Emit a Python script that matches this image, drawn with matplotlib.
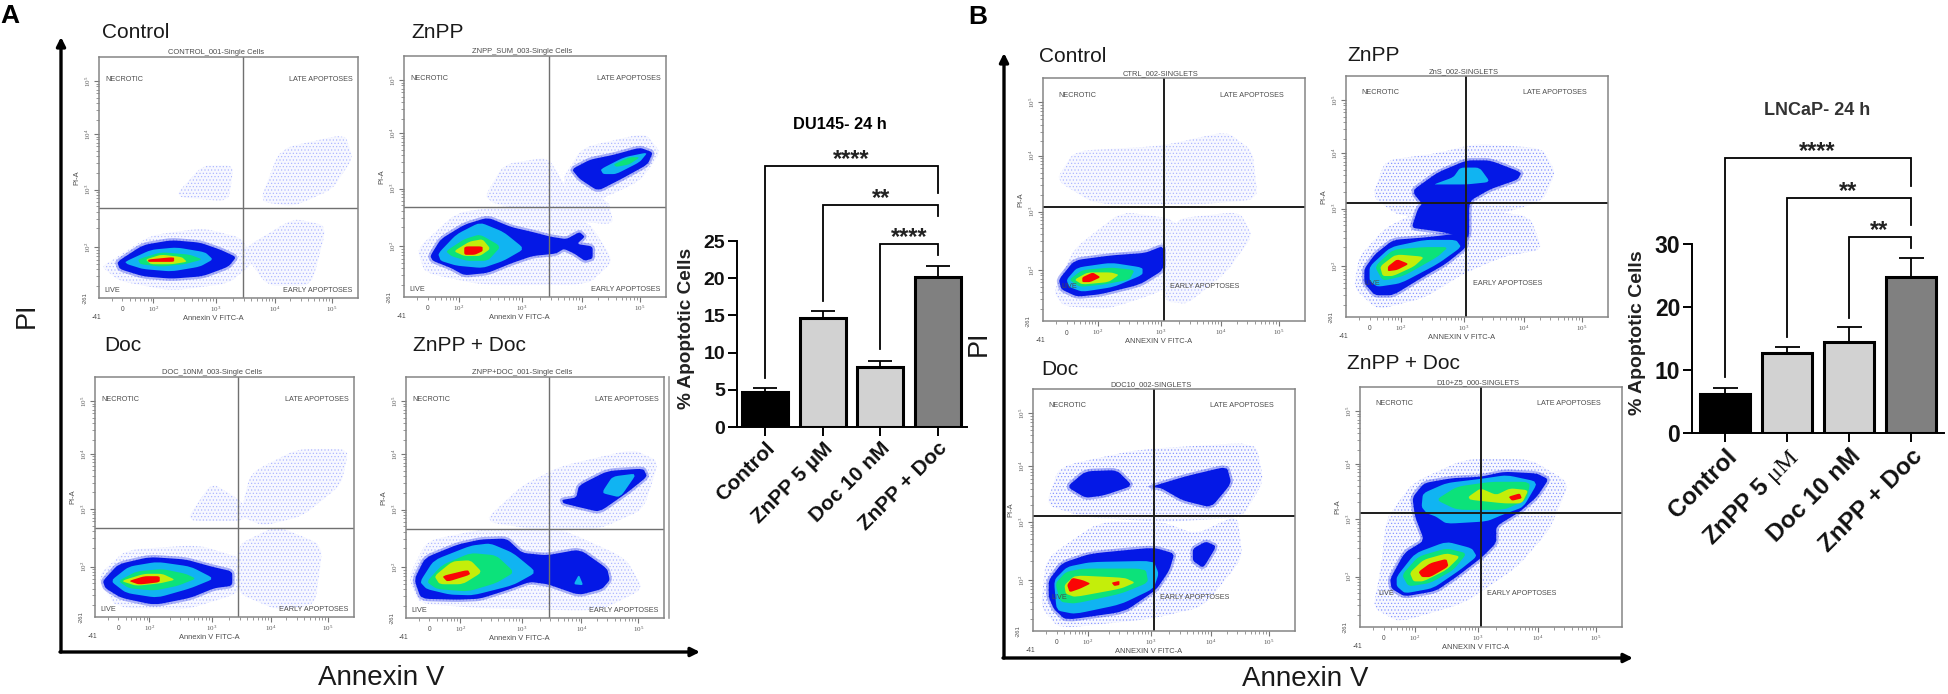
import numpy as np
import matplotlib
matplotlib.use("Agg")
import matplotlib.pyplot as plt

W, H = 1949, 694
plt.rcParams['font.family'] = ['Liberation Sans', 'DejaVu Sans']
plt.rcParams['mathtext.fontset'] = 'custom'
plt.rcParams['mathtext.rm'] = 'Liberation Serif'
plt.rcParams['mathtext.it'] = 'Liberation Serif'
plt.rcParams['hatch.linewidth'] = 0.45

# --- bar chart values ---
bar_groups = ["Control", "ZnPP 5 µM", "Doc 10 nM", "ZnPP + Doc"]
bar_groups_b = ["Control", r"ZnPP 5 $\mu\mathrm{M}$", "Doc 10 nM", "ZnPP + Doc"]
bar_colors = ["#000000", "#d2d2d2", "#d2d2d2", "#808080"]
du145_values = [4.7, 14.6, 8.1, 20.1]
du145_caps = [5.2, 15.6, 8.9, 21.7]
lncap_values = [6.2, 12.7, 14.4, 24.8]
lncap_caps = [7.2, 13.7, 16.8, 27.7]

# bracket: start bar, level, left leg end, right leg end, stars
du145_brackets = [(0, 35.1, 6.6, 31.4, "****"), (1, 29.8, 17.0, 28.4, "**"), (2, 24.6, 10.5, 23.1, "****")]
lncap_brackets = [(0, 43.6, 8.9, 39.2, "****"), (1, 37.3, 15.2, 33.0, "**"), (2, 31.1, 18.2, 29.4, "**")]

# --- flow plots, outlines in % of the plot box ---
# level 0 blue, 1 cyan, 2 green, 3 yellow, 4 red
a_control_clouds = [[(7, 17), (20, 26), (40, 29), (55, 25), (60, 15), (50, 6), (28, 3), (8, 7), (1, 13)],
                    [(62, 40), (70, 62), (95, 68), (98, 58), (90, 45), (75, 38)],
                    [(29, 42), (40, 55), (52, 55), (50, 40)],
                    [(55, 20), (75, 33), (88, 30), (82, 5), (65, 5)]]
a_control_blobs = [(0, [(7, 15), (17, 22), (28, 24), (39, 23), (47, 20), (53, 17), (50, 13), (40, 9), (28, 8), (17, 9), (8, 12)]),
                   (1, [(10, 15), (20, 20), (30, 21), (41, 19), (44, 16), (39, 13), (28, 11), (17, 12), (11, 14)]),
                   (2, [(15, 16), (24, 19), (35, 18), (40, 16), (33, 14), (24, 13), (16, 14)]),
                   (3, [(18, 16), (24, 18), (32, 17), (34, 15), (28, 14), (20, 14)]),
                   (4, [(19, 16), (29, 17), (29, 15), (23, 15), (19, 15)])]

a_znpp_clouds = [[(5, 20), (20, 35), (40, 38), (70, 32), (80, 15), (70, 5), (30, 5), (8, 10)],
                 [(30, 40), (38, 55), (55, 58), (62, 45), (78, 40), (80, 30), (60, 32)],
                 [(60, 48), (68, 62), (92, 68), (98, 60), (90, 48), (70, 38)]]
a_znpp_blobs = [(0, [(10, 17), (14, 24), (23, 30), (32, 33), (41, 29), (49, 27), (56, 25), (62, 24), (67, 27), (69, 25), (66, 22), (72, 21), (72, 16), (69, 15), (65, 18), (61, 20), (58, 18), (49, 17), (41, 14), (32, 10), (23, 9), (18, 12), (11, 15)]),
                (1, [(13, 18), (20, 26), (29, 31), (38, 27), (46, 20), (38, 15), (30, 12), (20, 13), (14, 15)]),
                (2, [(16, 19), (23, 24), (29, 26), (37, 21), (32, 15), (24, 15), (18, 17)]),
                (3, [(19, 19), (25, 23), (30, 24), (33, 20), (29, 17), (23, 17)]),
                (4, [(23, 21), (30, 21), (30, 19), (27, 17.5), (23, 17.5)]),
                (0, [(64, 53), (71, 57), (80, 59), (90, 62), (95, 60), (93, 55), (83, 49), (74, 44), (67, 49)]),
                (1, [(75, 53), (84, 58), (93, 60), (90, 56), (81, 51), (76, 51)]),
                (2, [(80, 55), (86, 58), (90, 58), (86, 55), (81, 54)])]

a_doc_clouds = [[(1, 17), (12, 28), (40, 30), (58, 24), (56, 10), (35, 3), (8, 4)],
                [(55, 10), (55, 30), (70, 38), (88, 30), (85, 5), (70, 3)],
                [(35, 40), (45, 56), (57, 48), (58, 40)],
                [(56, 42), (60, 60), (78, 70), (98, 70), (95, 55), (80, 42), (65, 38)]]
a_doc_blobs = [(0, [(3, 15), (9, 22), (21, 25), (35, 24), (45, 21), (53, 19), (53, 13), (46, 12), (37, 8), (23, 5), (10, 8), (4, 12)]),
               (1, [(6, 15), (13, 21), (24, 23), (37, 21), (46, 16), (37, 12), (24, 8), (12, 10)]),
               (2, [(9, 15), (16, 19), (26, 20), (35, 18), (39, 16), (32, 13), (23, 11), (13, 12)]),
               (3, [(10, 15), (19, 18), (26, 18), (31, 15.5), (25, 14), (16, 13)]),
               (4, [(13, 15), (19, 17), (25, 17), (25, 14.5), (17, 13.5)])]

a_combo_clouds = [[(1, 17), (8, 32), (30, 37), (60, 37), (85, 25), (92, 12), (75, 3), (30, 4), (5, 6)],
                  [(30, 40), (45, 55), (60, 63), (88, 70), (98, 65), (92, 45), (75, 37), (55, 36)]]
a_combo_blobs = [(0, [(3.2, 16), (7.4, 25), (20, 30.5), (29, 32.6), (39, 33), (45, 27), (54.6, 26), (67.4, 28.5), (78, 20.5), (79, 15.7), (76, 12), (67, 9.5), (55, 14), (48, 15), (39, 11.5), (28.7, 8), (20, 7.6), (5.8, 8)]),
                 (1, [(5.4, 15), (10.8, 24), (25, 30), (32.6, 31), (41.5, 27), (50.6, 19), (41.5, 13.6), (26, 9.4), (17, 9.7), (8, 12)]),
                 (2, [(8, 15), (14, 22), (25, 27), (35, 26), (42, 19), (35, 14.5), (24, 11), (12, 12)]),
                 (3, [(11, 17.4), (18, 23.5), (25, 24), (29.5, 19), (22, 14), (13, 14)]),
                 (4, [(14, 17.4), (24, 20), (25, 18), (16, 15)]),
                 (0, [(60.5, 49), (66, 50), (67, 55), (78, 61), (92, 62), (93.5, 58.7), (85.7, 52), (75, 44), (67, 46), (61, 47.6)]),
                 (1, [(76.5, 53), (80, 58.7), (89.5, 60), (83, 50), (76.5, 51.7)]),
                 (1, [(65, 14), (67, 18), (68.7, 13.6)])]

b_control_clouds = [[(4, 12), (12, 30), (30, 45), (50, 42), (60, 25), (45, 12), (25, 5), (8, 6)],
                    [(45, 18), (50, 42), (75, 45), (80, 35), (70, 20), (55, 7), (47, 8)],
                    [(5, 58), (12, 70), (45, 72), (70, 78), (80, 70), (82, 50), (60, 48), (20, 48)]]
b_control_blobs = [(0, [(6, 17), (12, 25), (26, 27), (39, 28), (46, 31), (46, 21), (37, 15), (22, 11), (13, 10), (7, 13)]),
                   (1, [(9, 17), (13, 22), (26, 24), (38, 22), (38, 19), (27, 14), (15, 12), (10, 14)]),
                   (2, [(10, 17), (15, 21), (26, 22), (35, 21), (33, 17), (23, 15), (14, 14)]),
                   (3, [(12, 17), (17, 20), (26, 20), (29, 19), (25, 16), (15, 15)]),
                   (4, [(15, 18), (19, 20), (22, 18), (18, 16), (15, 16)])]

b_znpp_clouds = [[(3, 12), (5, 25), (15, 37), (30, 45), (45, 45), (70, 42), (75, 28), (60, 25), (45, 18), (30, 8), (12, 3)],
                 [(10, 50), (15, 65), (35, 68), (50, 72), (75, 70), (80, 60), (75, 48), (50, 40), (20, 42)]]
b_znpp_blobs = [(0, [(26, 53), (35, 60), (46, 65), (55, 65), (67, 60), (65.5, 57), (55, 53), (47, 48), (47, 32), (38, 35), (32, 36), (25, 37), (27.5, 45), (29, 47), (26, 51)]),
                (0, [(7, 20), (11, 26), (18, 32), (30, 33), (46, 35), (46, 29), (38, 22), (30, 17), (18, 9), (11, 9), (7, 14)]),
                (1, [(9, 21), (17, 29), (30, 32), (42, 32), (44, 29), (35, 22), (21, 14), (12, 12.5), (9, 15)]),
                (2, [(11, 21), (18, 28), (30, 29), (39, 29), (35, 25), (22, 17), (14, 15)]),
                (3, [(13, 21), (19, 26), (30, 25), (26, 21), (18, 17), (14, 17)]),
                (4, [(16, 21), (19.5, 24), (24, 22), (19.5, 19.5), (16, 19)]),
                (1, [(33.5, 55), (41, 58), (43.6, 62), (51, 62), (55, 56), (46, 55), (36, 55)])]

b_doc_clouds = [[(3, 10), (5, 30), (25, 45), (50, 45), (62, 40), (78, 48), (80, 30), (65, 10), (45, 5), (10, 1)],
                [(5, 52), (10, 68), (40, 75), (85, 78), (88, 62), (80, 47), (50, 45), (20, 47)]]
b_doc_blobs = [(0, [(6, 21), (11, 28), (22, 32), (46, 34.5), (54, 32), (52, 25), (47, 17), (35, 8), (12.5, 4.5), (8, 9), (6, 14)]),
               (1, [(8, 21), (13, 26.5), (22, 28.5), (46, 29), (48, 23.7), (46, 17.5), (33.5, 11), (16, 7), (9, 8.5)]),
               (2, [(8.5, 19.6), (12.5, 24.4), (19, 25.8), (43, 25.8), (44, 20), (33.5, 15.4), (16, 11.3), (10.5, 12)]),
               (3, [(12, 19), (16, 23), (35, 22), (39, 20), (33.5, 17.5), (16, 14), (12.5, 15.4)]),
               (4, [(13, 19), (15, 22), (19, 21), (22, 19.6), (18, 17.5), (14, 16)]),
               (4, [(30, 20), (33, 20.7), (33, 19), (31, 18.6)]),
               (0, [(13, 59.6), (20, 66), (32, 66.5), (38, 60), (27, 56), (20, 55)]),
               (0, [(45, 59.6), (58.5, 64), (74, 68), (75.7, 61), (68, 51), (57, 54), (49, 59)]),
               (0, [(61, 34), (66, 37), (70, 35), (65, 26), (61, 29)])]

b_combo_clouds = [[(5, 8), (8, 25), (10, 45), (20, 60), (40, 70), (65, 70), (80, 60), (72, 40), (60, 25), (40, 10), (15, 2)]]
b_combo_blobs = [(0, [(11.5, 20), (17, 31), (24.5, 36), (21, 46), (20, 54), (24.5, 60), (35, 62), (46, 62.6), (55, 64.7), (67.5, 64), (72, 61.5), (67.5, 54.2), (61, 48), (52, 42), (52, 35), (46.5, 29), (37, 21), (29, 15), (17, 12.7), (12, 16)]),
                 (1, [(23.5, 50), (24, 55.7), (33, 60), (46, 61.7), (56, 63.3), (68, 60.5), (62.4, 50), (55, 47), (48.4, 44), (33, 43), (29, 46), (25.5, 47.4)]),
                 (2, [(29, 53), (37, 58.5), (50, 60.5), (65, 60.5), (63.7, 53), (55, 48.8), (37, 48.8)]),
                 (3, [(41.4, 54.3), (46, 57.8), (52, 55), (57.3, 57.8), (64.3, 57), (61.8, 51.5), (55, 51.5), (42, 53)]),
                 (4, [(56.7, 54.3), (61, 55.7), (61.8, 53.6), (58, 52.6)]),
                 (1, [(14, 21), (21, 30.7), (33, 35.6), (42.7, 32.8), (44.6, 29.4), (38.2, 23.8), (28, 16.2), (17.2, 14), (14, 17)]),
                 (2, [(16, 21.7), (22.3, 29.4), (33, 32.8), (40.8, 30.7), (35.7, 23.8), (26.8, 18.3), (18.5, 16.9)]),
                 (3, [(19, 22.6), (24.2, 28), (33, 30.7), (38.2, 29.4), (33, 23.8), (24.2, 19), (20.4, 19)]),
                 (4, [(22.3, 23), (26.8, 26.6), (33, 28.4), (33.8, 25.2), (26.8, 20.8), (23.6, 20.8)])]

decades = [21, 45, 68, 90]
decade_labels = ["$10^{2}$", "$10^{3}$", "$10^{4}$", "$10^{5}$"]
level_colors = ["#0418e6", "#10b4f2", "#0ce27a", "#c4ee0a", "#fb0505"]

fig = plt.figure(figsize=(W / 100, H / 100), dpi=100, facecolor="white")


def box(left, top, right, bottom):
    return fig.add_axes([left / W, 1 - bottom / H, (right - left) / W, (bottom - top) / H])


def smooth(points, rounds=2):
    # light corner cutting so the outlines do not look like plain polygons
    pts = np.array(points, dtype=float)
    for _ in range(rounds):
        nxt = np.roll(pts, -1, axis=0)
        pts = np.column_stack([0.87 * pts + 0.13 * nxt, 0.13 * pts + 0.87 * nxt]).reshape(-1, 2)
    return pts


def flow_panel(rect, vgate, hgate, clouds, blobs, sample, xname, gate_color, lw, scheme, dots):
    left, top, right, bottom = rect
    ax = box(left, top, right, bottom)
    ax.set_xlim(0, 100)
    ax.set_ylim(0, 100)
    for s in ax.spines.values():
        s.set_color("#858585")
        s.set_linewidth(1.1)
    for cloud in clouds:
        pts = smooth(cloud)
        ax.fill(pts[:, 0], pts[:, 1], facecolor="#f7f8ff", edgecolor=dots, hatch=".....", linewidth=0)
    for level, outline in blobs:
        pts = smooth(outline)
        if level == 0:
            # dense fringe of dots around the solid blue area
            ax.fill(pts[:, 0], pts[:, 1], facecolor="none", edgecolor="#0418e6", linewidth=3.5, alpha=0.3)
        ax.fill(pts[:, 0], pts[:, 1], color=level_colors[level], linewidth=0)
    ax.axvline((vgate - left) / (right - left) * 100, color=gate_color, lw=lw)
    ax.axhline((bottom - hgate) / (bottom - top) * 100, color=gate_color, lw=lw)

    minor = [d + 23 * np.log10(k) - 23 for d in decades for k in range(2, 10)]
    minor = [m for m in minor if 0 < m < 100]
    ax.set_xticks(decades)
    ax.set_yticks(decades)
    ax.set_xticks(minor, minor=True)
    ax.set_yticks(minor, minor=True)
    ax.set_xticklabels(decade_labels, fontsize=5, color="#555555")
    ax.set_yticklabels(decade_labels, fontsize=5, color="#555555", rotation=90, va="center")
    ax.tick_params(which="major", length=3.5, width=0.8, color="#777777", pad=1)
    ax.tick_params(which="minor", length=2, width=0.6, color="#888888")

    gray = "#4c4c4c"
    ax.text(45, 100.5, sample, fontsize=5.4, color=gray, ha="center", va="bottom")
    ax.text(44, -8.6, xname, fontsize=5.4, color=gray, ha="center", va="center")
    ax.text(-8.5, 50, "PI-A", fontsize=5.4, color=gray, rotation=90, ha="center", va="center")
    ax.text(-1, -6.5, "-41", fontsize=4.8, color=gray, ha="center", va="top")
    ax.text(9, -3.5, "0", fontsize=4.8, color=gray, ha="center", va="top")
    ax.text(-5.5, 0, "-261", fontsize=4.2, color=gray, rotation=90, ha="center", va="center")
    if scheme == "A":
        ax.text(2.5, 90.5, "NECROTIC", fontsize=5.2, color=gray, va="center")
        ax.text(98, 90.5, "LATE APOPTOSES", fontsize=5.2, color=gray, ha="right", va="center")
        ax.text(98, 3, "EARLY APOPTOSES", fontsize=5.2, color=gray, ha="right", va="center")
        ax.text(2, 3, "LIVE", fontsize=5.2, color=gray, va="center")
    else:
        ax.text(6, 93, "NECROTIC", fontsize=5.2, color=gray, va="center")
        ax.text(92, 93, "LATE APOPTOSES", fontsize=5.2, color=gray, ha="right", va="center")
        ax.text(48.5, 14, "EARLY APOPTOSES", fontsize=5.2, color=gray, va="center")
        ax.text(7, 14, "LIVE", fontsize=5.2, color=gray, va="center")
    return ax


def bar_panel(rect, xlim, ylim, yticks, values, caps, labels, brackets, tick_size, label_size, cap):
    ax = box(*rect)
    ax.patch.set_alpha(0)
    x = np.arange(len(values))
    ax.bar(x, values, width=0.8, color=bar_colors, edgecolor="black", linewidth=2.2, zorder=2)
    errs = np.array(caps) - np.array(values)
    ax.errorbar(x, values, yerr=[np.zeros(len(errs)), errs], fmt="none", ecolor="black",
                elinewidth=1.3, capsize=cap, capthick=1.3, zorder=1)
    for start, level, left_end, right_end, stars in brackets:
        ax.plot([start, start, 3, 3], [left_end, level, level, right_end], color="black",
                lw=1.3, clip_on=False, solid_joinstyle="miter")
    ax.set_xlim(*xlim)
    ax.set_ylim(*ylim)
    ax.set_yticks(yticks)
    ax.set_xticks(x)
    ax.set_xticklabels(labels, rotation=45, ha="right", rotation_mode="anchor",
                       fontsize=label_size, fontweight="bold", color="#111111")
    ax.set_yticklabels([str(t) for t in yticks], fontsize=tick_size, fontweight="bold", color="#111111")
    ax.spines["top"].set_visible(False)
    ax.spines["right"].set_visible(False)
    ax.spines["left"].set_linewidth(1.4)
    ax.spines["bottom"].set_linewidth(1.4)
    ax.tick_params(length=6.5, width=1.4, pad=2)
    return ax


faint = "#aab4ff"
dense = "#7f8fff"
flow_panel((99, 57, 358, 298), 243, 208, a_control_clouds, a_control_blobs,
           "CONTROL_001-Single Cells", "Annexin V FITC-A", "#707070", 1.0, "A", faint)
flow_panel((404, 56, 666, 297), 549, 207, a_znpp_clouds, a_znpp_blobs,
           "ZNPP_SUM_003-Single Cells", "Annexin V FITC-A", "#707070", 1.0, "A", faint)
flow_panel((95, 377, 354, 617), 238, 528, a_doc_clouds, a_doc_blobs,
           "DOC_10NM_003-Single Cells", "Annexin V FITC-A", "#707070", 1.0, "A", faint)
flow_panel((406, 377, 664, 618), 549, 529, a_combo_clouds, a_combo_blobs,
           "ZNPP+DOC_001-Single Cells", "Annexin V FITC-A", "#707070", 1.0, "A", faint)
flow_panel((1043, 78, 1305, 321), 1164, 207, b_control_clouds, b_control_blobs,
           "CTRL_002-SINGLETS", "ANNEXIN V FITC-A", "#1c1c1c", 1.4, "B", faint)
flow_panel((1346, 76, 1608, 317), 1466, 203, b_znpp_clouds, b_znpp_blobs,
           "ZnS_002-SINGLETS", "ANNEXIN V FITC-A", "#1c1c1c", 1.4, "B", dense)
flow_panel((1033, 389, 1295, 631), 1154, 516, b_doc_clouds, b_doc_blobs,
           "DOC10_002-SINGLETS", "ANNEXIN V FITC-A", "#1c1c1c", 1.4, "B", dense)
flow_panel((1360, 387, 1622, 627), 1481, 513, b_combo_clouds, b_combo_blobs,
           "D10+Z5_000-SINGLETS", "ANNEXIN V FITC-A", "#1c1c1c", 1.4, "B", dense)

bar_panel((737, 241, 967, 427), (-0.486, 3.507), (0, 25), [0, 5, 10, 15, 20, 25],
          du145_values, du145_caps, bar_groups, du145_brackets, 14, 15, 8.3)
bar_panel((1692, 244, 1944, 433), (-0.532, 3.532), (0, 30), [0, 10, 20, 30],
          lncap_values, lncap_caps, bar_groups_b, lncap_brackets, 16.5, 17.5, 9)

# overlay in image pixels for letters, arrows and the shared labels
ov = fig.add_axes([0, 0, 1, 1], zorder=5)
ov.set_xlim(0, W)
ov.set_ylim(H, 0)
ov.axis("off")


def arrow(x0, y0, x1, y1):
    ov.annotate("", xy=(x1, y1), xytext=(x0, y0),
                arrowprops=dict(arrowstyle="-|>", lw=2.4, color="black", mutation_scale=13, shrinkA=0, shrinkB=0))


arrow(61, 652, 61, 37)
arrow(60, 652, 700, 652)
arrow(1004, 658, 1004, 53)
arrow(1003, 658, 1633, 658)
ov.plot([669, 669], [377, 618], color="#a0a0a0", lw=1.2)

ov.text(0, 23, "A", fontsize=19, fontweight="bold", va="baseline")
ov.text(968, 24, "B", fontsize=19, fontweight="bold", va="baseline")
for x, y, name in [(102, 32, "Control"), (411, 32, "ZnPP"), (104, 345, "Doc"), (413, 345, "ZnPP + Doc"),
                   (1039, 56, "Control"), (1347, 55, "ZnPP"), (1041, 369, "Doc"), (1347, 363, "ZnPP + Doc")]:
    ov.text(x, y, name, fontsize=15, color="#1a1a1a", va="center")
ov.text(27, 315, "PI", fontsize=19.5, rotation=90, ha="center", va="center", color="#1a1a1a")
ov.text(979, 343, "PI", fontsize=19.5, rotation=90, ha="center", va="center", color="#1a1a1a")
ov.text(381, 678, "Annexin V", fontsize=20, ha="center", va="center", color="#1a1a1a")
ov.text(1305, 679, "Annexin V", fontsize=20, ha="center", va="center", color="#1a1a1a")

ov.text(840, 124, "DU145- 24 h", fontsize=11.8, fontweight="bold", ha="center", va="center")
ov.text(1817, 110, "LNCaP- 24 h", fontsize=13, fontweight="bold", ha="center", va="center", color="#333333")
ov.text(687, 328, "% Apoptotic Cells", fontsize=13.7, fontweight="bold", rotation=90, ha="center", va="center", color="#222222")
ov.text(1638, 333, "% Apoptotic Cells", fontsize=14, fontweight="bold", rotation=90, ha="center", va="center", color="#222222")

for x, y, stars in [(851, 154, "****"), (881, 193, "**"), (909, 232, "****"),
                    (1817, 146, "****"), (1848, 186, "**"), (1879, 225, "**")]:
    ov.text(x, y + 12, stars, fontsize=17, fontweight="bold", ha="center", va="baseline", color="#222222")

fig.savefig("out.png", dpi=100)
